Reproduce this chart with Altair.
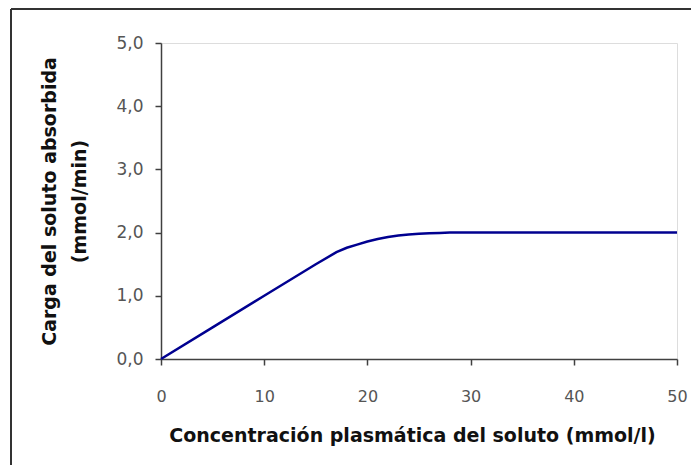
import altair as alt
import pandas as pd

# Data
concentracion = [0, 5, 10, 15, 17, 18, 19, 20, 21, 22, 23, 24, 25, 26, 27, 28, 30, 40, 50]
carga = [0.0, 0.5, 1.0, 1.5, 1.69, 1.76, 1.81, 1.86, 1.90, 1.93, 1.955, 1.97, 1.98, 1.99, 1.995, 2.0, 2.0, 2.0, 2.0]

x_ticks = [0, 10, 20, 30, 40, 50]
y_ticks = [0, 1, 2, 3, 4, 5]

df = pd.DataFrame({"x": concentracion, "y": carga})

W, H = 516, 316
AX = "#404040"

line = alt.Chart(df).mark_line(color="#000090", strokeWidth=2.5).encode(
    x=alt.X(
        "x:Q",
        scale=alt.Scale(domain=[0, 50], nice=False, zero=True),
        axis=alt.Axis(
            values=x_ticks,
            title="Concentración plasmática del soluto (mmol/l)",
            grid=False,
            domainColor=AX,
            domainWidth=1.5,
            tickColor=AX,
            tickWidth=1.5,
            tickSize=6,
            labelFont="DejaVu Sans",
            labelFontSize=16,
            labelColor="#555555",
            labelPadding=23,
            labelFlush=False,
            titleFont="DejaVu Sans",
            titleFontSize=19,
            titleFontWeight="bold",
            titleColor="#111111",
            titlePadding=22,
            titleX=251,
            titleAlign="center",
        ),
    ),
    y=alt.Y(
        "y:Q",
        scale=alt.Scale(domain=[0, 5], nice=False),
        axis=alt.Axis(
            values=y_ticks,
            labelExpr="replace(format(datum.value, '.1f'), '.', ',')",
            title=["Carga del soluto absorbida", "(mmol/min)"],
            grid=False,
            domainColor=AX,
            domainWidth=1.5,
            tickColor=AX,
            tickWidth=1.5,
            tickSize=6,
            labelFont="DejaVu Sans",
            labelFontSize=17,
            labelColor="#555555",
            labelPadding=12,
            titleFont="DejaVu Sans",
            titleFontSize=19,
            titleFontWeight="bold",
            titleColor="#111111",
            titleLineHeight=30,
            titlePadding=26,
        ),
    ),
)

# Decorative frame of the figure (left and top edges visible in the reference)
frame_left = alt.Chart(df).mark_rule(color="#333333", strokeWidth=2).encode(
    x=alt.value(-150), y=alt.value(-34), y2=alt.value(H + 130)
)
frame_top = alt.Chart(df).mark_rule(color="#333333", strokeWidth=2).encode(
    x=alt.value(-150), x2=alt.value(W + 40), y=alt.value(-34)
)

chart = (
    alt.layer(frame_left, frame_top, line)
    .properties(
        width=W,
        height=H,
        autosize=alt.AutoSizeParams(type="none"),
        padding={"left": 153, "top": 35, "right": 14, "bottom": 106},
    )
    .configure_view(stroke=None)
    .configure(background="white")
)

chart.save("out.html", embed_options={"renderer": "svg", "actions": False})
